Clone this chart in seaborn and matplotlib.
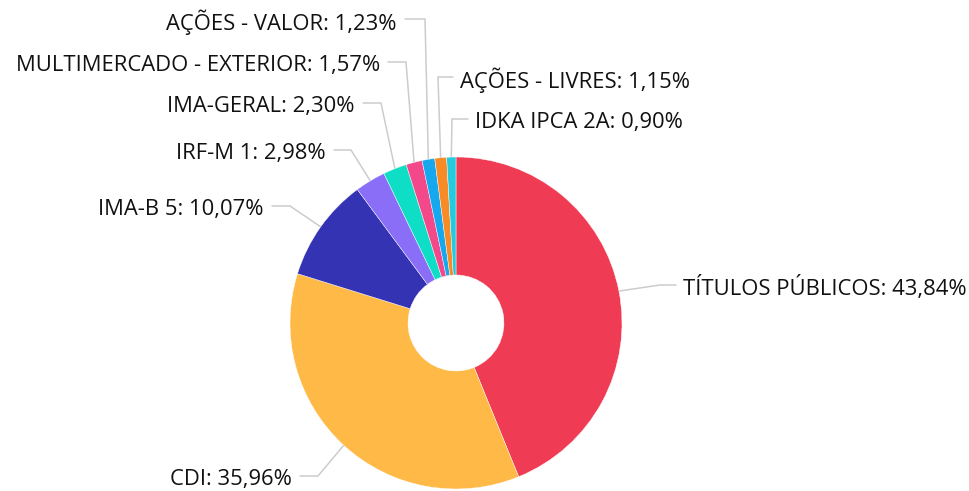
import numpy as np
import matplotlib.pyplot as plt
import seaborn as sns

# data
categories = ["TÍTULOS PÚBLICOS", "CDI", "IMA-B 5", "IRF-M 1", "IMA-GERAL",
              "MULTIMERCADO - EXTERIOR", "AÇÕES - VALOR", "AÇÕES - LIVRES",
              "IDKA IPCA 2A"]
shares = [43.84, 35.96, 10.07, 2.98, 2.30, 1.57, 1.23, 1.15, 0.90]
colors = ["#EF3B53", "#FFB946", "#3333B3", "#8A6EF8", "#0DDEC5",
          "#F3498A", "#16A8EF", "#F88B26", "#26CADF"]

# label layout in pixels: (text x, text y, elbow x, side)
label_pos = [
    (683, 288, 660, "right"),
    (292, 479, 318, "left"),
    (264, 209, 290, "left"),
    (326, 153, 351, "left"),
    (355, 106, 381, "left"),
    (380, 65, 406, "left"),
    (397, 22, 425, "left"),
    (460, 80, 438, "right"),
    (475, 122, 452, "right"),
]

W, H = 969, 491
sns.set_theme(style="white")
plt.rcParams["font.family"] = ["Open Sans", "DejaVu Sans"]

fig = plt.figure(figsize=(W / 100, H / 100), dpi=100)
ax = fig.add_axes([0, 0, 1, 1])

cx, cy, r = 456, H - 323, 166
wedges, _ = ax.pie(shares, colors=sns.color_palette(colors), startangle=90,
                   counterclock=False, center=(cx, cy), radius=r,
                   wedgeprops=dict(width=r - 48, edgecolor="white", linewidth=0.3),
                   frame=True)
ax.set_xlim(0, W)
ax.set_ylim(0, H)
ax.axis("off")

for w, name, val, (tx, ty, ex, side) in zip(wedges, categories, shares, label_pos):
    mid = np.deg2rad((w.theta1 + w.theta2) / 2)
    axp = cx + r * np.cos(mid)
    ayp = cy + r * np.sin(mid)
    ly = H - ty + 3
    if side == "right":
        lx = tx - 7
        ha = "left"
    else:
        lx = tx + 8
        ha = "right"
    ax.plot([lx, ex, axp], [ly, ly, ayp], color="#cccccc", lw=1.1,
            solid_joinstyle="miter", zorder=0)
    label = f"{name}: {val:.2f}%".replace(".", ",")
    ax.text(tx, H - ty, label, ha=ha, va="center", fontsize=15.8,
            color="#111111")

fig.savefig("out.png", dpi=100)
